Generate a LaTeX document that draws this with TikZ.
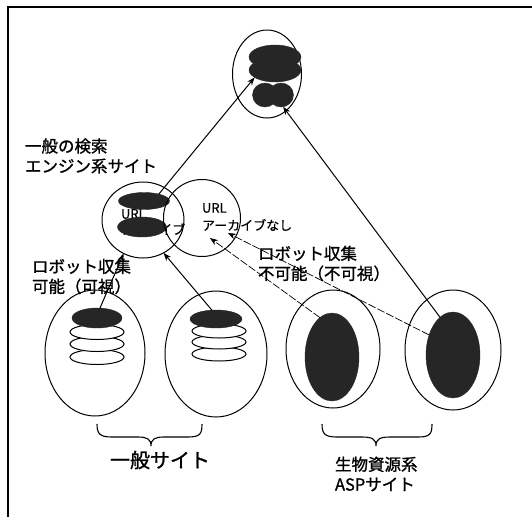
\documentclass[tikz,border=0pt]{standalone}
\usepackage{fontspec}
\newfontfamily\jp[FakeBold=1.2]{Noto Sans CJK JP}
\newfontfamily\jpl[FakeBold=0.5]{Noto Sans CJK JP}
\usetikzlibrary{shapes.geometric,arrows.meta}
\begin{document}
\begin{tikzpicture}[x=1pt,y=-1pt,
  every node/.style={inner sep=0pt,outer sep=0pt},
  oval/.style={ellipse,draw,line width=1pt},
  blob/.style={ellipse,fill=black!85,draw=black!85},
  ring/.style={ellipse,draw,line width=1pt,fill=white},
  lbl/.style={font=\jp\fontsize{16.5}{20}\selectfont,align=left,anchor=west},
  big/.style={font=\jp\fontsize{20}{24}\selectfont,align=left,anchor=west},
  small/.style={font=\jpl\fontsize{13}{16}\selectfont,anchor=west},
  link/.style={line width=1pt,-{Stealth[length=8pt,width=6pt]}},
  dlink/.style={line width=0.7pt,dash pattern=on 8pt off 2pt,-{Stealth[length=8pt,width=6pt]}},
  brc/.style={line width=1.1pt}
]
\useasboundingbox (0,0) rectangle (532,517);
% frame
\draw[line width=1.4pt] (532,7) -- (8,7) -- (8,517);

% top circle
\node[oval,minimum width=69pt,minimum height=88pt] (top) at (267,74) {};
\node[blob,minimum width=52pt,minimum height=24pt] (topA1) at (275,57) {};
\node[blob,minimum width=52pt,minimum height=24pt] (topA2) at (275,70) {};
\node[blob,minimum width=25pt,minimum height=24pt] (topB1) at (265,95) {};
\node[blob,minimum width=25pt,minimum height=24pt] (topB2) at (281,95) {};

% search engine circle
\node[oval,minimum width=82pt,minimum height=76pt] (se) at (143,220) {};
\node[small] (hidA) at (121,214) {URL};
\node[small] (hidB) at (121,229) {アーカイブ};
\node[blob,minimum width=51pt,minimum height=17pt] (seA) at (144,201) {};
\node[blob,minimum width=49pt,minimum height=20pt] (seB) at (142,227) {};

% URL archive circle
\node[oval,minimum width=77pt,minimum height=77pt] (url) at (202,218) {};
\node[small] (urlA) at (202,208) {URL};
\node[small] (urlB) at (202,225) {アーカイブなし};

% bottom sites
\node[oval,minimum width=100pt,minimum height=126pt] (e1) at (95,353) {};
\node[oval,minimum width=102pt,minimum height=126pt] (e2) at (216,354) {};
\node[oval,minimum width=94pt,minimum height=118pt] (e3) at (333,349) {};
\node[oval,minimum width=96pt,minimum height=120pt] (e4) at (453,350) {};
\node[blob,minimum width=54pt,minimum height=88pt] (b3) at (332,357) {};
\node[blob,minimum width=54pt,minimum height=86pt] (b4) at (453,355) {};

% stacks
\node[ring,minimum width=54pt,minimum height=15pt] (r13) at (97,357) {};
\node[ring,minimum width=54pt,minimum height=15pt] (r12) at (97,344) {};
\node[ring,minimum width=54pt,minimum height=15pt] (r11) at (97,332) {};
\node[blob,minimum width=50pt,minimum height=20pt] (s1) at (97,318) {};
\node[ring,minimum width=54pt,minimum height=14pt] (r23) at (219,354) {};
\node[ring,minimum width=54pt,minimum height=14pt] (r22) at (219,342) {};
\node[ring,minimum width=54pt,minimum height=14pt] (r21) at (219,331) {};
\node[blob,minimum width=52pt,minimum height=18pt] (s2) at (216,319) {};

% labels
\node[lbl] (lse) at (25,156) {一般の検索\\エンジン系サイト};
\node[lbl] (lvis) at (32,276.5) {ロボット収集\\可能（可視）};
\node[lbl] (linv) at (258,263.5) {ロボット収集\\不可能（不可視）};
\node[big] (lgen) at (110,460) {一般サイト};
\node[lbl] (lbio) at (335,474) {生物資源系\\ASPサイト};

% free ends inside the URL circle
\coordinate (u1) at (210,238);
\coordinate (u2) at (228,233);
\coordinate (s1t) at (100,308);

% arrows
\draw[link] (s1t) -- (se.240);
\draw[link] (s2.115) -- (se.302);
\draw[link] (seA.25) -- (topA2.200);
\draw[link] (b4.109) -- (topB2.280);
\draw[dlink] (b3.107) -- (u1);
\draw[dlink] (b4.140) -- (u2);

% braces
\draw[brc] (97,424) .. controls (97,434) and (100,437) .. (112,437)
  -- (138,437) .. controls (147,437) and (151,439) .. (151,446)
  .. controls (151,439) and (155,437) .. (164,437) -- (188,437)
  .. controls (200,437) and (202,434) .. (202,424);
\draw[brc] (322,424) .. controls (322,434) and (325,437) .. (337,437)
  -- (362,437) .. controls (372,437) and (376,439) .. (376,446)
  .. controls (376,439) and (380,437) .. (390,437) -- (418,437)
  .. controls (430,437) and (432,434) .. (432,424);
\end{tikzpicture}
\end{document}
